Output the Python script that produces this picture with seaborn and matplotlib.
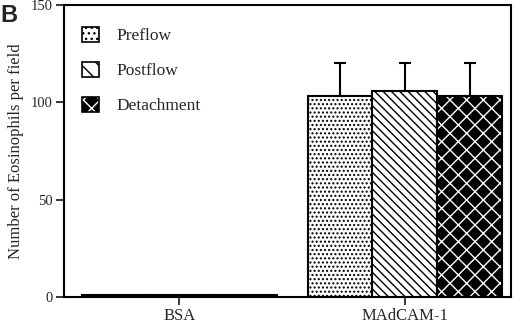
import matplotlib
matplotlib.use("Agg")
import matplotlib.pyplot as plt
import seaborn as sns
import pandas as pd
from matplotlib.patches import Patch
from matplotlib.colors import to_rgba

substrates = ["BSA", "MAdCAM-1"]
conditions = ["Preflow", "Postflow", "Detachment"]
values = {
    "Preflow": [1, 103],
    "Postflow": [1, 106],
    "Detachment": [1, 103],
}
errors_up = {
    "Preflow": [0, 17],
    "Postflow": [0, 14],
    "Detachment": [0, 17],
}
yticks = [0, 50, 100, 150]

face = {"Preflow": "white", "Postflow": "white", "Detachment": "black"}
hatches = {"Preflow": "....", "Postflow": "\\\\\\\\", "Detachment": "xx"}
legend_hatches = {"Preflow": "...", "Postflow": "\\\\", "Detachment": "xx"}
hatch_col = {"Preflow": "black", "Postflow": "black", "Detachment": "white"}

rows = []
for c in conditions:
    for s, v in zip(substrates, values[c]):
        rows.append({"substrate": s, "condition": c, "count": v})
df = pd.DataFrame(rows)

sns.set_style("white")
plt.rcParams["font.family"] = ["Liberation Serif", "DejaVu Serif"]
plt.rcParams["hatch.linewidth"] = 1.0

fig = plt.figure(figsize=(5.2, 3.23), dpi=100)
ax = fig.add_axes([0.123, 0.0805, 0.860, 0.904])

sns.barplot(data=df, x="substrate", y="count", hue="condition",
            order=substrates, hue_order=conditions,
            palette=[face[c] for c in conditions], width=0.863,
            edgecolor="black", linewidth=1.5, errorbar=None,
            legend=False, saturation=1, ax=ax)


def set_hc(p, col):
    if hasattr(p, "set_hatchcolor"):
        p.set_hatchcolor(col)
    else:
        p._hatch_color = to_rgba(col)


for i, c in enumerate(conditions):
    cont = ax.containers[i]
    xs, ys, es = [], [], []
    for j, bar in enumerate(cont):
        bar.set_hatch(hatches[c])
        bar.set_facecolor(face[c])
        bar.set_edgecolor("black")
        set_hc(bar, hatch_col[c])
        e = errors_up[c][j]
        if e > 0:
            xs.append(bar.get_x() + bar.get_width() / 2)
            ys.append(bar.get_height())
            es.append(e)
    if xs:
        ax.errorbar(xs, ys, yerr=[[0] * len(es), es], fmt="none",
                    ecolor="black", elinewidth=1.5, capsize=4, capthick=1.5,
                    zorder=1)

ax.set_xlim(-0.511, 1.471)
ax.set_ylim(0, 150)
ax.set_yticks(yticks)
ax.set_yticklabels([str(t) for t in yticks], fontsize=10.5)
ax.tick_params(axis="x", labelsize=12, direction="out", length=6, width=1.3,
               bottom=True, pad=2)
ax.tick_params(axis="y", direction="out", length=6, width=1.3, left=True, pad=2)
ax.set_xlabel("")
ax.set_ylabel("Number of Eosinophils per field", fontsize=12, labelpad=5)
for sp in ax.spines.values():
    sp.set_visible(True)
    sp.set_linewidth(1.5)
    sp.set_color("black")

handles = []
for c in conditions:
    h = Patch(facecolor=face[c], edgecolor="black", hatch=legend_hatches[c],
              linewidth=1.2)
    set_hc(h, hatch_col[c])
    handles.append(h)
leg = ax.legend(handles, conditions, loc="upper left", bbox_to_anchor=(0.04, 0.926),
                frameon=False, fontsize=12.5, handlelength=1.0, handleheight=1.0,
                labelspacing=1.0, handletextpad=1.0, borderpad=0, borderaxespad=0)

fig.text(0.0, 0.932, "B", fontsize=17, fontweight="bold",
         family=["Liberation Sans", "DejaVu Sans"], va="baseline", ha="left")

fig.savefig("out.png", dpi=100)
